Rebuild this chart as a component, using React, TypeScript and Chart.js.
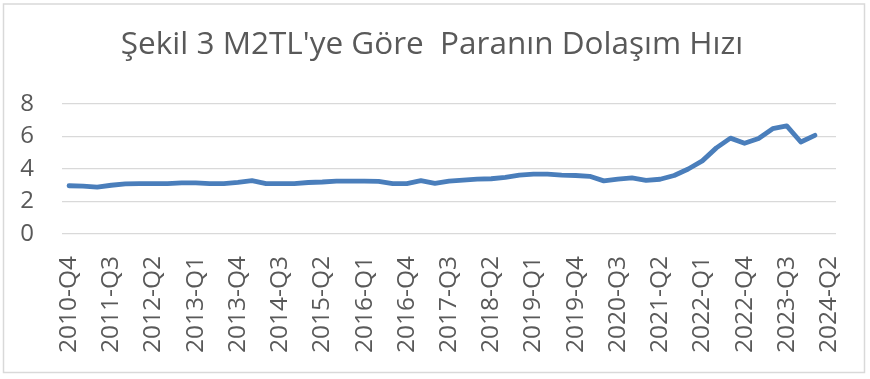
import React, { useEffect, useRef } from "react";
import { Chart, registerables } from "chart.js";

Chart.register(...registerables);

const TITLE = "Şekil 3 M2TL'ye Göre  Paranın Dolaşım Hızı";

const quarters: string[] = [
  "2010-Q4",
  "2011-Q1", "2011-Q2", "2011-Q3", "2011-Q4",
  "2012-Q1", "2012-Q2", "2012-Q3", "2012-Q4",
  "2013-Q1", "2013-Q2", "2013-Q3", "2013-Q4",
  "2014-Q1", "2014-Q2", "2014-Q3", "2014-Q4",
  "2015-Q1", "2015-Q2", "2015-Q3", "2015-Q4",
  "2016-Q1", "2016-Q2", "2016-Q3", "2016-Q4",
  "2017-Q1", "2017-Q2", "2017-Q3", "2017-Q4",
  "2018-Q1", "2018-Q2", "2018-Q3", "2018-Q4",
  "2019-Q1", "2019-Q2", "2019-Q3", "2019-Q4",
  "2020-Q1", "2020-Q2", "2020-Q3", "2020-Q4",
  "2021-Q1", "2021-Q2", "2021-Q3", "2021-Q4",
  "2022-Q1", "2022-Q2", "2022-Q3", "2022-Q4",
  "2023-Q1", "2023-Q2", "2023-Q3", "2023-Q4",
  "2024-Q1", "2024-Q2",
];

const velocity: (number | null)[] = [
  2.97,
  2.95, 2.89, 3.0, 3.08,
  3.1, 3.1, 3.1, 3.15,
  3.15, 3.1, 3.1, 3.18,
  3.28, 3.1, 3.1, 3.1,
  3.17, 3.2, 3.25, 3.25,
  3.25, 3.24, 3.1, 3.1,
  3.28, 3.12, 3.25, 3.32,
  3.38, 3.4, 3.48, 3.62,
  3.68, 3.68, 3.62, 3.6,
  3.55, 3.27, 3.38, 3.45,
  3.3, 3.37, 3.6, 4.0,
  4.5, 5.3, 5.9, 5.58,
  5.88, 6.48, 6.65, 5.66,
  6.07, null,
];

const yMin = 0;
const yMax = 8;
const yStep = 2;
const labelEvery = 3;

const frameAndTitlePlugin = {
  id: "frameAndTitle",
  beforeDraw(chart: any) {
    const ctx = chart.ctx;
    ctx.save();
    ctx.fillStyle = "#ffffff";
    ctx.fillRect(0, 0, chart.width, chart.height);
    ctx.strokeStyle = "#d9d9d9";
    ctx.lineWidth = 1.5;
    ctx.strokeRect(3.5, 4, 861, 368.5);
    ctx.restore();
  },
  afterDraw(chart: any) {
    const ctx = chart.ctx;
    ctx.save();
    ctx.fillStyle = "#595959";
    ctx.font = "31.5px 'Open Sans'";
    ctx.textAlign = "center";
    ctx.textBaseline = "middle";
    ctx.fillText(TITLE, 432, 45);
    ctx.restore();
  },
};

export default function App() {
  const ref = useRef<HTMLCanvasElement>(null);

  useEffect(() => {
    if (!ref.current) return;
    const chart = new Chart(ref.current, {
      type: "line",
      data: {
        labels: quarters,
        datasets: [
          {
            label: TITLE,
            data: velocity,
            borderColor: "#4a7ebb",
            borderWidth: 4.8,
            pointRadius: 0,
            tension: 0,
            borderCapStyle: "round",
            borderJoinStyle: "round",
            spanGaps: false,
          },
        ],
      },
      options: {
        responsive: false,
        animation: false,
        layout: { padding: { left: 0, right: 34, top: 104, bottom: 0 } },
        plugins: {
          legend: { display: false },
          tooltip: { enabled: false },
          title: { display: false },
        },
        scales: {
          x: {
            offset: true,
            grid: { display: false, drawTicks: false },
            border: { display: false },
            ticks: {
              autoSkip: false,
              minRotation: 90,
              maxRotation: 90,
              padding: 22,
              color: "#595959",
              font: { family: "'Open Sans'", size: 24.5 },
              callback: (_v: any, i: number) => (i % labelEvery === 0 ? quarters[i] : ""),
            },
            afterFit: (scale: any) => {
              scale.height = 145;
              scale.paddingRight = 0;
              scale.paddingLeft = 0;
            },
          },
          y: {
            min: yMin,
            max: yMax,
            grid: { color: "#d9d9d9", lineWidth: 1.3, drawTicks: false },
            border: { display: false },
            ticks: {
              stepSize: yStep,
              padding: 28,
              color: "#595959",
              font: { family: "'Open Sans'", size: 24 },
            },
            afterFit: (scale: any) => {
              scale.width = 62;
            },
          },
        },
      },
      plugins: [frameAndTitlePlugin],
    });
    return () => chart.destroy();
  }, []);

  return (
    <div style={{ position: "absolute", left: 0, top: 0, width: 870, height: 379, background: "#fff" }}>
      <canvas ref={ref} width={870} height={379} style={{ display: "block" }} />
    </div>
  );
}
